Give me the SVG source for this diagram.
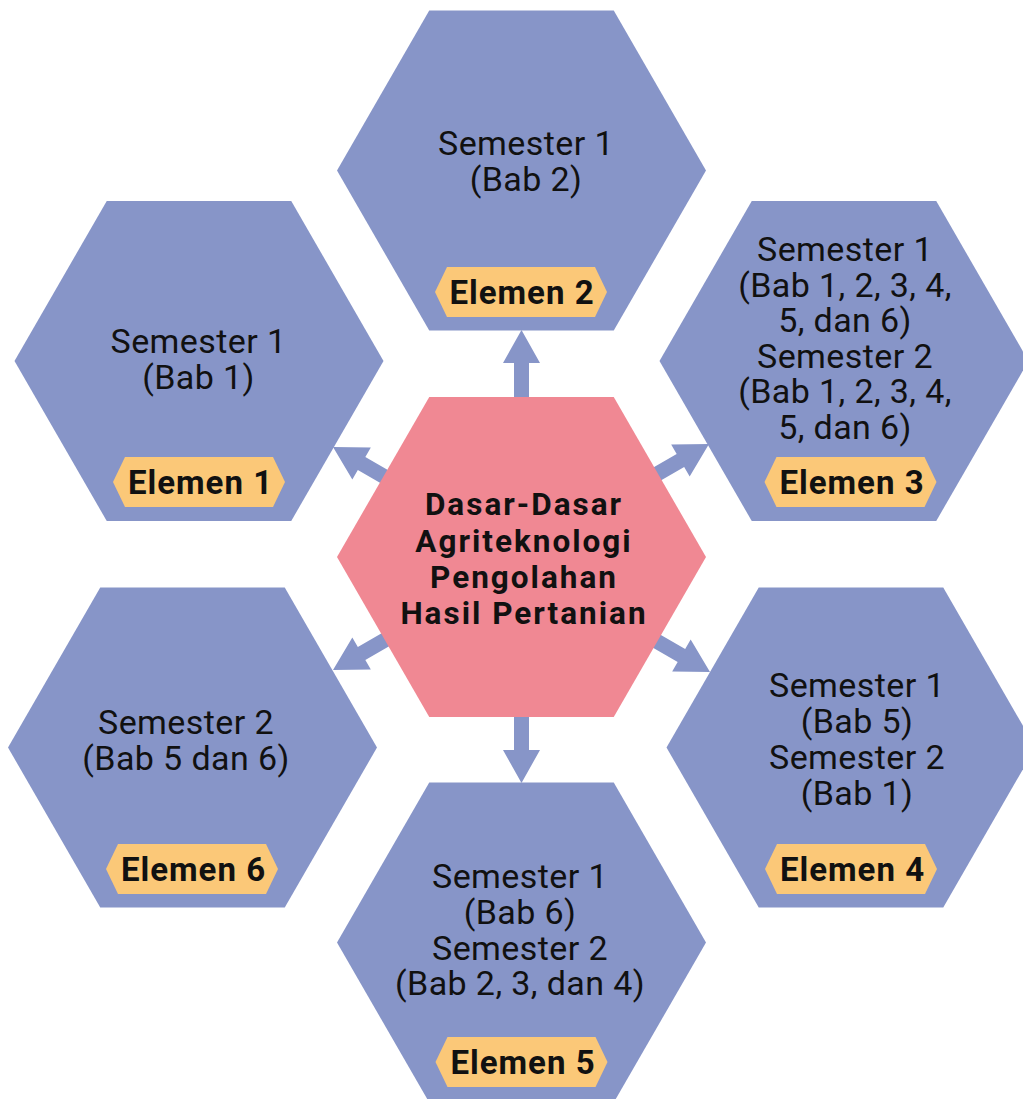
<svg xmlns="http://www.w3.org/2000/svg" xmlns:xlink="http://www.w3.org/1999/xlink" width="1023" height="1099" viewBox="0 0 1023 1099">
<style>
.hex{fill:#8795C8}
.core{fill:#F08893}
.badge{fill:#FBC878}
.arrow{fill:#8795C8}
.t{font-family:Roboto,"Liberation Sans",sans-serif;font-size:34px;letter-spacing:0.4px;fill:#111;text-anchor:middle}
.b{font-family:Roboto,"Liberation Sans",sans-serif;font-weight:700;fill:#111;text-anchor:middle}
.bt{font-size:33px;letter-spacing:1px}
.ct{font-size:31.5px;letter-spacing:2px}
</style>
<defs>
<path id="hx" d="M-184.5,0 L-92.25,-160 L92.25,-160 L184.5,0 L92.25,160 L-92.25,160 Z"/>
<path id="bd" d="M-86,0 L-74,-25 L74,-25 L86,0 L74,25 L-74,25 Z"/>
<path id="ar" d="M0,0 L-33,-18.5 L-33,-7.5 L-115,-7.5 L-115,7.5 L-33,7.5 L-33,18.5 Z"/>
</defs>
<rect width="1023" height="1099" fill="#fff"/>
<g id="connectors" class="arrow">
<use xlink:href="#ar" transform="translate(521.5,330) rotate(-90)"/>
<use xlink:href="#ar" transform="translate(521.5,783) rotate(90)"/>
<use xlink:href="#ar" transform="translate(333,447) rotate(-150)"/>
<use xlink:href="#ar" transform="translate(709,444) rotate(-30)"/>
<use xlink:href="#ar" transform="translate(333,670) rotate(150)"/>
<use xlink:href="#ar" transform="translate(710,672) rotate(30)"/>
</g>
<g id="center">
<use xlink:href="#hx" class="core" transform="translate(521.5,557)"/>
<text class="b ct"><tspan x="524" y="515">Dasar-Dasar</tspan><tspan x="524" y="551.5">Agriteknologi</tspan><tspan x="524" y="588">Pengolahan</tspan><tspan x="524" y="624">Hasil Pertanian</tspan></text>
</g>
<g id="elemen2">
<use xlink:href="#hx" class="hex" transform="translate(521.5,170.5)"/>
<text class="t"><tspan x="526" y="155">Semester 1</tspan><tspan x="526" y="191">(Bab 2)</tspan></text>
<use xlink:href="#bd" class="badge" transform="translate(521,292)"/>
<text class="b bt" x="522" y="304">Elemen 2</text>
</g>
<g id="elemen1">
<use xlink:href="#hx" class="hex" transform="translate(199,361)"/>
<text class="t"><tspan x="198.5" y="353">Semester 1</tspan><tspan x="198.5" y="389">(Bab 1)</tspan></text>
<use xlink:href="#bd" class="badge" transform="translate(199,482)"/>
<text class="b bt" x="200.5" y="494">Elemen 1</text>
</g>
<g id="elemen3">
<use xlink:href="#hx" class="hex" transform="translate(844,361)"/>
<text class="t"><tspan x="845" y="261">Semester 1</tspan><tspan x="845" y="296.6">(Bab 1, 2, 3, 4,</tspan><tspan x="845" y="332.2">5, dan 6)</tspan><tspan x="845" y="367.8">Semester 2</tspan><tspan x="845" y="403.4">(Bab 1, 2, 3, 4,</tspan><tspan x="845" y="439">5, dan 6)</tspan></text>
<use xlink:href="#bd" class="badge" transform="translate(850.5,482)"/>
<text class="b bt" x="852" y="494">Elemen 3</text>
</g>
<g id="elemen6">
<use xlink:href="#hx" class="hex" transform="translate(192.5,747.5)"/>
<text class="t"><tspan x="186" y="734">Semester 2</tspan><tspan x="186" y="769.5">(Bab 5 dan 6)</tspan></text>
<use xlink:href="#bd" class="badge" transform="translate(192,869)"/>
<text class="b bt" x="193.5" y="881">Elemen 6</text>
</g>
<g id="elemen4">
<use xlink:href="#hx" class="hex" transform="translate(851,747.5)"/>
<text class="t"><tspan x="857" y="697">Semester 1</tspan><tspan x="857" y="733">(Bab 5)</tspan><tspan x="857" y="769">Semester 2</tspan><tspan x="857" y="805">(Bab 1)</tspan></text>
<use xlink:href="#bd" class="badge" transform="translate(851,869)"/>
<text class="b bt" x="852.5" y="881">Elemen 4</text>
</g>
<g id="elemen5">
<use xlink:href="#hx" class="hex" transform="translate(521.5,942.5)"/>
<text class="t"><tspan x="520" y="888">Semester 1</tspan><tspan x="520" y="924">(Bab 6)</tspan><tspan x="520" y="960">Semester 2</tspan><tspan x="520" y="995">(Bab 2, 3, dan 4)</tspan></text>
<use xlink:href="#bd" class="badge" transform="translate(521.5,1062)"/>
<text class="b bt" x="523" y="1074">Elemen 5</text>
</g>
</svg>
